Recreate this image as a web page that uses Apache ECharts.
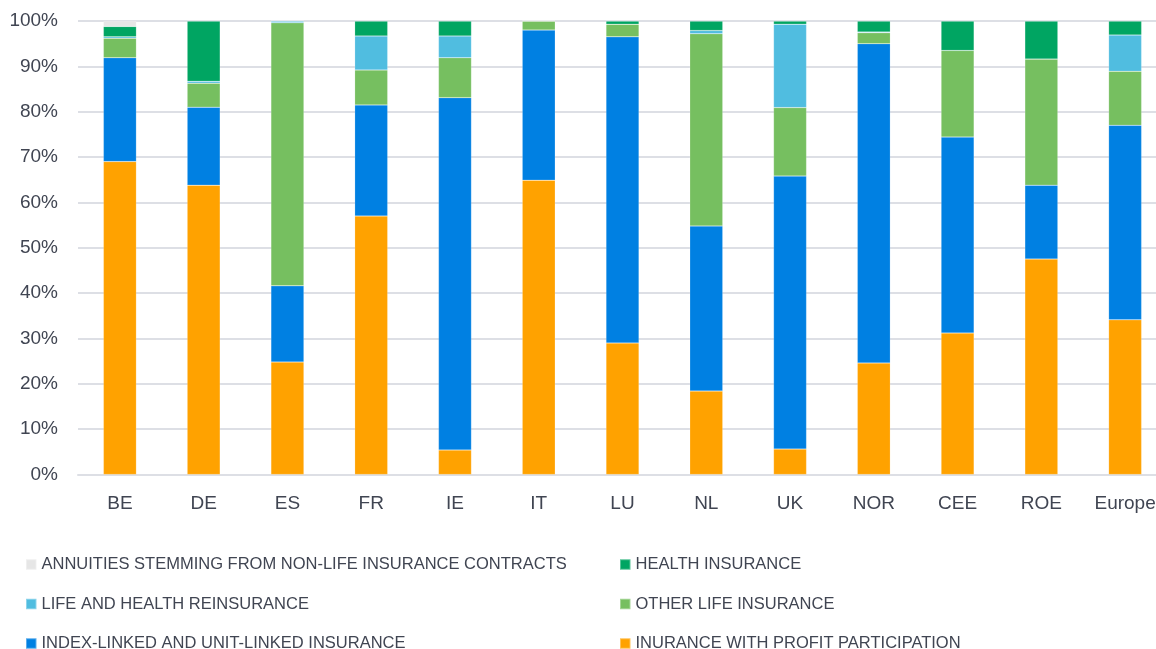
<!DOCTYPE html>
<html><head><meta charset="utf-8">
<script src="https://cdn.jsdelivr.net/npm/echarts@6/dist/echarts.min.js"></script>
<style>html,body{margin:0;padding:0;background:#fff}#c{width:1156px;height:649px}</style>
</head><body><div id="c"></div>
<script>
const categories = ['BE','DE','ES','FR','IE','IT','LU','NL','UK','NOR','CEE','ROE','Europe'];
const profitParticipation = [69.0, 63.8, 24.8, 57.0, 5.4, 64.9, 29.0, 18.4, 5.6, 24.6, 31.2, 47.5, 34.1];
const indexUnitLinked     = [22.9, 17.2, 16.8, 24.5, 77.7, 33.1, 67.5, 36.4, 60.2, 70.4, 43.2, 16.3, 42.9];
const otherLife           = [4.3, 5.3, 58.0, 7.7, 8.8, 2.0, 2.8, 42.4, 15.1, 2.4, 19.1, 27.8, 11.9];
const lifeHealthReins     = [0.3, 0.4, 0.4, 7.5, 4.8, 0, 0, 0.7, 18.4, 0.2, 0, 0, 8.0];
const healthInsurance     = [2.3, 13.3, 0, 3.3, 3.3, 0, 0.7, 2.1, 0.7, 2.4, 6.5, 8.4, 3.1];
const annuitiesNonLife    = [1.2, 0, 0, 0, 0, 0, 0, 0, 0, 0, 0, 0, 0];
const yTicks = ['0%','10%','20%','30%','40%','50%','60%','70%','80%','90%','100%'];

const names = {
  ann: 'ANNUITIES STEMMING FROM NON-LIFE INSURANCE CONTRACTS',
  health: 'HEALTH INSURANCE',
  reins: 'LIFE AND HEALTH REINSURANCE',
  other: 'OTHER LIFE INSURANCE',
  index: 'INDEX-LINKED AND UNIT-LINKED INSURANCE',
  profit: 'INURANCE WITH PROFIT PARTICIPATION'
};
const colors = {
  ann: '#E6E6E6', health: '#00A562', reins: '#50BDE0',
  other: '#76BF60', index: '#0080E2', profit: '#FFA200'
};
const FONT = "'Liberation Sans', sans-serif";
const textColor = '#404552';

function mk(key, data) {
  return {
    name: names[key], type: 'bar', stack: 'all', data: data,
    barWidth: 33,
    itemStyle: { color: colors[key], borderColor: 'rgba(255,255,255,0.35)', borderWidth: 0.5 },
    emphasis: { disabled: true }
  };
}

const legendCommon = {
  orient: 'vertical', itemWidth: 10.5, itemHeight: 10.5, itemGap: 22.5, height: 120,
  padding: 0, icon: 'rect', selectedMode: false,
  textStyle: { fontFamily: FONT, fontSize: 16.5, color: textColor, padding: [0,0,0,0] }
};

const chart = echarts.init(document.getElementById('c'));
chart.setOption({
  animation: false,
  grid: { left: 78, top: 21, right: -11, height: 453.5, outerBoundsMode: 'none', containLabel: false },
  xAxis: {
    type: 'category', data: categories,
    axisLine: { lineStyle: { color: '#DDDFE5', width: 2 } },
    axisTick: { show: false },
    axisLabel: { fontFamily: FONT, fontSize: 19, color: textColor, margin: 20 }
  },
  yAxis: {
    type: 'value', min: 0, max: 100, interval: 10,
    axisLine: { show: false }, axisTick: { show: false },
    splitLine: { lineStyle: { color: '#DDDFE5', width: 2 } },
    axisLabel: {
      fontFamily: FONT, fontSize: 19, color: textColor, margin: 20,
      formatter: function (v) { return yTicks[Math.round(v / 10)]; }
    }
  },
  legend: [
    Object.assign({ left: 25, top: 556, data: [names.ann, names.reins, names.index] }, legendCommon),
    Object.assign({ left: 619, top: 556, data: [names.health, names.other, names.profit] }, legendCommon)
  ],
  series: [
    mk('profit', profitParticipation),
    mk('index', indexUnitLinked),
    mk('other', otherLife),
    mk('reins', lifeHealthReins),
    mk('health', healthInsurance),
    mk('ann', annuitiesNonLife)
  ]
});
</script>
</body></html>
